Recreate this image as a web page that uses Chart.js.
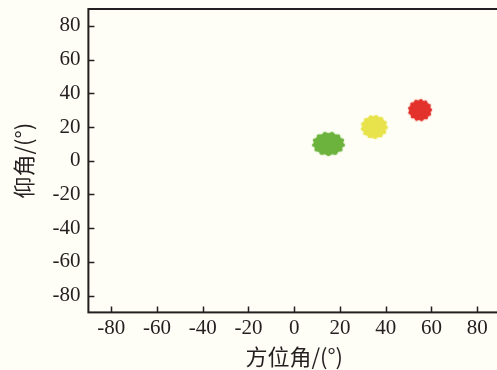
<!DOCTYPE html>
<html lang="zh">
<head>
  <meta charset="UTF-8">
  <title>方位角 / 仰角</title>
  <script src="https://cdn.jsdelivr.net/npm/chart.js@4.4.0/dist/chart.umd.min.js"></script>
  <style>
    html, body { margin: 0; padding: 0; overflow: hidden; background: #fefef6; }
    .wrap { position: relative; width: 505px; height: 370px; }
  </style>
</head>
<body>
  <div class="wrap"><canvas id="chart"></canvas></div>
  <script>
    // data
    const sources = ['source A', 'source B', 'source C'];
    const azimuth = [15, 35, 55];     // x, 方位角 (°)
    const elevation = [10, 20, 30];   // y, 仰角 (°)
    const blobColors = ['#6cb33e', '#e9e34b', '#e2322b'];
    const blobSizes = [[33, 24], [27, 24], [24, 22]];  // px, w x h
    const xTickValues = [-80, -60, -40, -20, 0, 20, 40, 60, 80];
    const yTickValues = [-80, -60, -40, -20, 0, 20, 40, 60, 80];

    // scalloped blob used as point style
    function makeBlob(w, h, color, lobes, phase) {
      const c = document.createElement('canvas');
      c.width = w + 6; c.height = h + 6;
      const g = c.getContext('2d');
      const cx = c.width / 2, cy = c.height / 2;
      g.beginPath();
      for (let i = 0; i <= 360; i++) {
        const t = i * Math.PI / 180;
        const r = 0.94 + 0.06 * Math.sin(lobes * t + phase);
        const px = cx + (w / 2) * r * Math.cos(t);
        const py = cy + (h / 2) * r * Math.sin(t);
        i ? g.lineTo(px, py) : g.moveTo(px, py);
      }
      g.closePath();
      g.fillStyle = color;
      g.shadowColor = color;
      g.shadowBlur = 1.5;
      g.fill();
      return c;
    }

    const frame = {
      id: 'frame',
      beforeDraw(chart) {
        const ctx = chart.ctx;
        ctx.save();
        ctx.fillStyle = '#fefef6';
        ctx.fillRect(0, 0, chart.width, chart.height);
        ctx.restore();
      },
      afterDraw(chart) {
        const { ctx, chartArea: a, scales } = chart;
        ctx.save();
        ctx.strokeStyle = '#231f20';
        ctx.lineWidth = 2;
        ctx.strokeRect(a.left, a.top, a.right - a.left, a.bottom - a.top);
        ctx.lineWidth = 1.5;
        ctx.beginPath();
        scales.x.ticks.forEach(t => {
          const px = Math.round(scales.x.getPixelForValue(t.value)) + 0.5;
          ctx.moveTo(px, a.bottom); ctx.lineTo(px, a.bottom - 6);
        });
        scales.y.ticks.forEach(t => {
          const py = Math.round(scales.y.getPixelForValue(t.value)) + 0.5;
          ctx.moveTo(a.left, py); ctx.lineTo(a.left + 6, py);
        });
        ctx.stroke();
        ctx.restore();
      }
    };

    const tickFont = { family: '"Liberation Serif", "DejaVu Serif", serif', size: 21 };
    const titleFont = { family: '"Noto Sans CJK SC", sans-serif', size: 22 };

    new Chart(document.getElementById('chart'), {
      type: 'scatter',
      data: {
        datasets: sources.map((name, i) => ({
          label: name,
          data: [{ x: azimuth[i], y: elevation[i] }],
          pointStyle: makeBlob(blobSizes[i][0], blobSizes[i][1], blobColors[i], 13, i),
          backgroundColor: blobColors[i]
        }))
      },
      plugins: [frame],
      options: {
        responsive: true,
        maintainAspectRatio: false,
        animation: false,
        layout: { padding: { top: 9, right: 4, bottom: 0, left: 10 } },
        plugins: { legend: { display: false }, tooltip: { enabled: false } },
        scales: {
          x: {
            type: 'linear', min: -90, max: 90,
            afterBuildTicks: s => { s.ticks = xTickValues.map(v => ({ value: v })); },
            afterFit: s => { s.paddingLeft = 0; s.paddingRight = 0; },
            grid: { display: false, drawTicks: false },
            border: { display: false },
            ticks: { color: '#231f20', font: tickFont, padding: 3, maxRotation: 0 },
            title: { display: true, text: '方位角/(°)', color: '#231f20', font: titleFont, padding: { top: 0, bottom: 0 } }
          },
          y: {
            type: 'linear', min: -90, max: 90,
            afterBuildTicks: s => { s.ticks = yTickValues.map(v => ({ value: v })); },
            afterFit: s => { s.paddingTop = 0; s.paddingBottom = 0; },
            grid: { display: false, drawTicks: false },
            border: { display: false },
            ticks: { color: '#231f20', font: tickFont, padding: 8 },
            title: { display: true, text: '仰角/(°)', color: '#231f20', font: titleFont, padding: { top: 0, bottom: 8 } }
          }
        }
      }
    });
  </script>
</body>
</html>
